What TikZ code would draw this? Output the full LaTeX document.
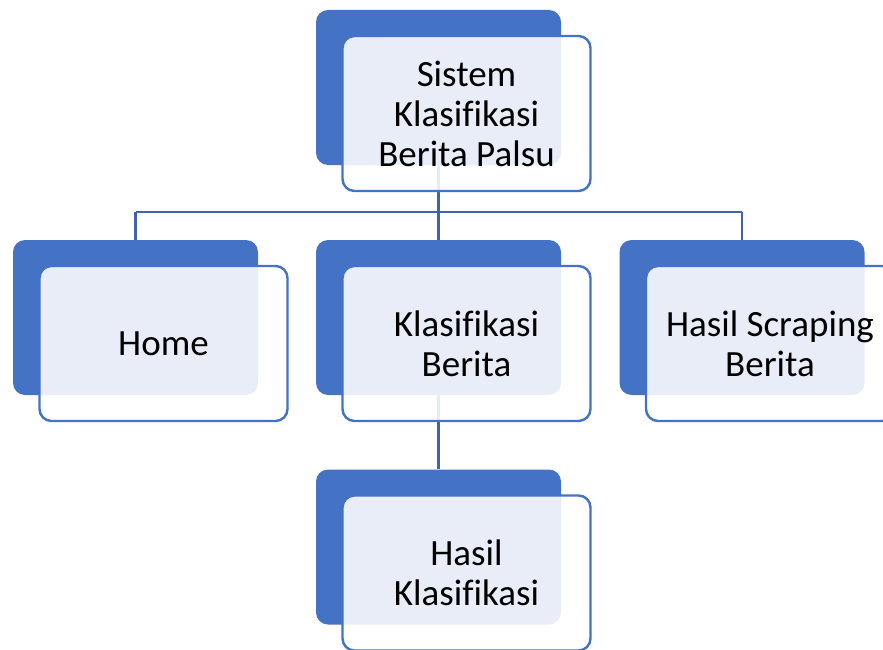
\documentclass[tikz,border=0pt]{standalone}
\usepackage{fontspec}
\setmainfont[Ligatures=CommonOff]{Carlito}
\usepackage{tikz}
\usetikzlibrary{calc,backgrounds}
\definecolor{boxblue}{HTML}{4472C4}
\definecolor{linkblue}{HTML}{3E64AC}

\tikzset{
	back/.style={fill=boxblue, rounded corners=12pt, minimum width=245pt, minimum height=155pt, inner sep=0pt},
	front/.style={draw=boxblue, line width=2.4pt, fill=white, fill opacity=0.88, text opacity=1, rounded corners=12pt,
		minimum width=248pt, minimum height=155pt, inner sep=0pt, align=center, font=\fontsize{37}{40}\selectfont},
	link/.style={draw=linkblue, line width=2.4pt}
}

\begin{document}
\begin{tikzpicture}[x=1pt,y=-1pt]
\useasboundingbox (0,0) rectangle (883,650);
\clip (0,0) rectangle (883,650);

\foreach \x/\y/\name/\txt in {438.5/87.5/top/{Sistem\\Klasifikasi\\Berita Palsu},
	135.5/317.5/home/{Home},
	438.5/317.5/klas/{Klasifikasi\\Berita},
	742/317.5/scrap/{Hasil Scraping\\Berita},
	438.5/547/hasil/{Hasil\\Klasifikasi}}{
	\coordinate (s) at (\x,\y);
	\node[back] (\name B) at (s) {};
	\node[front] (\name) at ($(s) + (28,26)$) {\txt};
}

% garis penghubung
\coordinate (bus) at (0,212);
\begin{scope}[on background layer]
\draw[link] (topB.center) -- (topB |- bus);
\draw[link] (homeB |- bus) -- (scrapB |- bus);
\foreach \name in {home,klas,scrap}{
	\draw[link] (\name B |- bus) -- (\name B.north);
}
\draw[link] (klasB.center) -- (hasilB.north);
\end{scope}

\end{tikzpicture}
\end{document}
